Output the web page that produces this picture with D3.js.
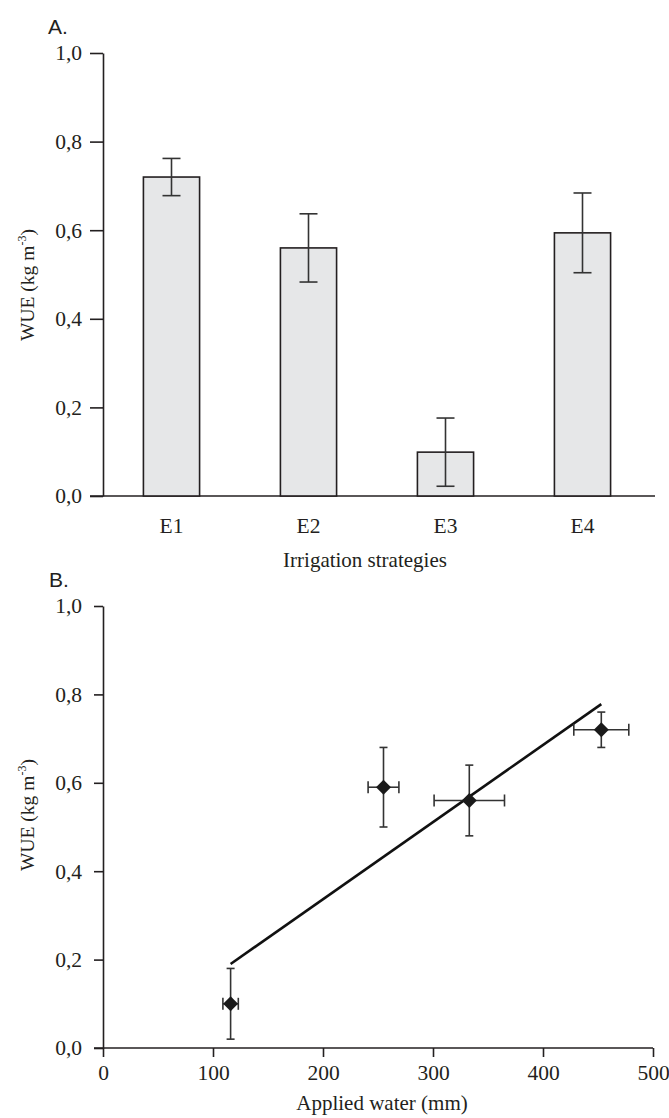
<!DOCTYPE html>
<html>
<head>
<meta charset="utf-8">
<script src="https://cdn.jsdelivr.net/npm/d3@7"></script>
<style>
  body { margin: 0; background: #fff; }
  svg { display: block; }
  text { font-family: "Liberation Serif", "Times New Roman", serif; fill: #231f20; }
  .panel-tag { font-family: "Liberation Sans", "DejaVu Sans", sans-serif; }
</style>
</head>
<body>
<svg width="669" height="1118"></svg>
<script>
// panel A: bars
const strategies = ["E1", "E2", "E3", "E4"]
const wueMean = [0.72, 0.56, 0.099, 0.594]
const wueErr = [0.042, 0.077, 0.077, 0.09]

// panel B: scatter with error bars
const appliedWater = [116, 255, 333, 453]
const appliedErr = [7, 14, 32, 25]
const wuePoint = [0.1, 0.59, 0.56, 0.72]
const wuePointErr = [0.08, 0.09, 0.08, 0.04]
// fitted line ends
const fitX = [116, 453]
const fitY = [0.19, 0.778]

const yTicks = [0, 0.2, 0.4, 0.6, 0.8, 1.0]
const xTicks = [0, 100, 200, 300, 400, 500]

const ink = "#231f20"
const fmt = d => d.toFixed(1).replace(".", ",")
const svg = d3.select("svg")

function styleAxis(g) {
    g.select(".domain").attr("stroke", ink).attr("stroke-width", 1.6)
    g.selectAll(".tick line").attr("stroke", ink).attr("stroke-width", 1.6)
    g.selectAll(".tick text")
        .attr("font-family", "Liberation Serif, serif")
        .attr("font-size", 21.5)
        .attr("fill", ink)
}

function yLabel(cy) {
    const t = svg.append("text")
        .attr("transform", `translate(34,${cy}) rotate(-90)`)
        .attr("text-anchor", "middle")
        .attr("font-size", 19.5)
    t.append("tspan").text("WUE (kg m")
    t.append("tspan").attr("font-size", 12).attr("dy", -8).text("-3")
    t.append("tspan").attr("dy", 8).text(")")
}

// ---------- A ----------
const yA = d3.scaleLinear().domain([0, 1]).range([496, 53])
const xA = d3.scaleBand().domain(strategies).range([103, 651])
    .paddingInner(0.59).paddingOuter(0.295)

svg.append("text").attr("class", "panel-tag")
    .attr("x", 48).attr("y", 34).attr("font-size", 21).text("A.")

svg.append("g")
    .attr("transform", "translate(103,0)")
    .call(d3.axisLeft(yA).tickValues(yTicks).tickFormat(fmt).tickSize(13).tickSizeOuter(0).tickPadding(8))
    .call(styleAxis)

svg.append("line")
    .attr("x1", 90).attr("x2", 655)
    .attr("y1", yA(0)).attr("y2", yA(0))
    .attr("stroke", ink).attr("stroke-width", 1.6)

const bars = strategies.map((s, i) => ({s, v: wueMean[i], e: wueErr[i]}))

svg.append("g").selectAll("rect")
    .data(bars).join("rect")
    .attr("x", d => xA(d.s))
    .attr("y", d => yA(d.v))
    .attr("width", xA.bandwidth())
    .attr("height", d => yA(0) - yA(d.v))
    .attr("fill", "#e6e7e8")
    .attr("stroke", ink).attr("stroke-width", 1.6)

const errA = svg.append("g").attr("stroke", "#333").attr("stroke-width", 1.6)
bars.forEach(d => {
    const cx = xA(d.s) + xA.bandwidth() / 2
    errA.append("line").attr("x1", cx).attr("x2", cx).attr("y1", yA(d.v + d.e)).attr("y2", yA(d.v - d.e))
    errA.append("line").attr("x1", cx - 9).attr("x2", cx + 9).attr("y1", yA(d.v + d.e)).attr("y2", yA(d.v + d.e))
    errA.append("line").attr("x1", cx - 9).attr("x2", cx + 9).attr("y1", yA(d.v - d.e)).attr("y2", yA(d.v - d.e))
})

svg.append("g").selectAll("text.cat")
    .data(strategies).join("text")
    .attr("x", d => xA(d) + xA.bandwidth() / 2)
    .attr("y", 533)
    .attr("text-anchor", "middle")
    .attr("font-size", 21.5)
    .text(d => d)

svg.append("text")
    .attr("x", 365).attr("y", 567)
    .attr("text-anchor", "middle")
    .attr("font-size", 21)
    .text("Irrigation strategies")

yLabel(285)

// ---------- B ----------
const yB = d3.scaleLinear().domain([0, 1]).range([1048, 606])
const xB = d3.scaleLinear().domain([0, 500]).range([103, 653])

svg.append("text").attr("class", "panel-tag")
    .attr("x", 49).attr("y", 587).attr("font-size", 21).text("B.")

svg.append("g")
    .attr("transform", "translate(103,0)")
    .call(d3.axisLeft(yB).tickValues(yTicks).tickFormat(fmt).tickSize(9).tickSizeOuter(0).tickPadding(12))
    .call(styleAxis)

svg.append("g")
    .attr("transform", "translate(0,1048)")
    .call(d3.axisBottom(xB).tickValues(xTicks).tickSize(9).tickSizeOuter(0).tickPadding(8))
    .call(styleAxis)
    .call(g => g.select(".domain").attr("d", "M94,0H653"))

svg.append("line")
    .attr("x1", xB(fitX[0])).attr("y1", yB(fitY[0]))
    .attr("x2", xB(fitX[1])).attr("y2", yB(fitY[1]))
    .attr("stroke", "#111").attr("stroke-width", 2.6)

const pts = appliedWater.map((x, i) => ({x, xe: appliedErr[i], y: wuePoint[i], ye: wuePointErr[i]}))
const errB = svg.append("g").attr("stroke", "#333").attr("stroke-width", 1.6)
pts.forEach(d => {
    const cx = xB(d.x), cy = yB(d.y)
    errB.append("line").attr("x1", cx).attr("x2", cx).attr("y1", yB(d.y + d.ye)).attr("y2", yB(d.y - d.ye))
    errB.append("line").attr("x1", cx - 4).attr("x2", cx + 4).attr("y1", yB(d.y + d.ye)).attr("y2", yB(d.y + d.ye))
    errB.append("line").attr("x1", cx - 4).attr("x2", cx + 4).attr("y1", yB(d.y - d.ye)).attr("y2", yB(d.y - d.ye))
    errB.append("line").attr("x1", xB(d.x - d.xe)).attr("x2", xB(d.x + d.xe)).attr("y1", cy).attr("y2", cy)
    errB.append("line").attr("x1", xB(d.x - d.xe)).attr("x2", xB(d.x - d.xe)).attr("y1", cy - 6).attr("y2", cy + 6)
    errB.append("line").attr("x1", xB(d.x + d.xe)).attr("x2", xB(d.x + d.xe)).attr("y1", cy - 6).attr("y2", cy + 6)
})

svg.append("g").selectAll("path.pt")
    .data(pts).join("path")
    .attr("d", d3.symbol(d3.symbolSquare, 112))
    .attr("transform", d => `translate(${xB(d.x)},${yB(d.y)}) rotate(45)`)
    .attr("fill", "#1a1a1a")

svg.append("text")
    .attr("x", 382).attr("y", 1110)
    .attr("text-anchor", "middle")
    .attr("font-size", 21)
    .text("Applied water (mm)")

yLabel(815)
</script>
</body>
</html>
